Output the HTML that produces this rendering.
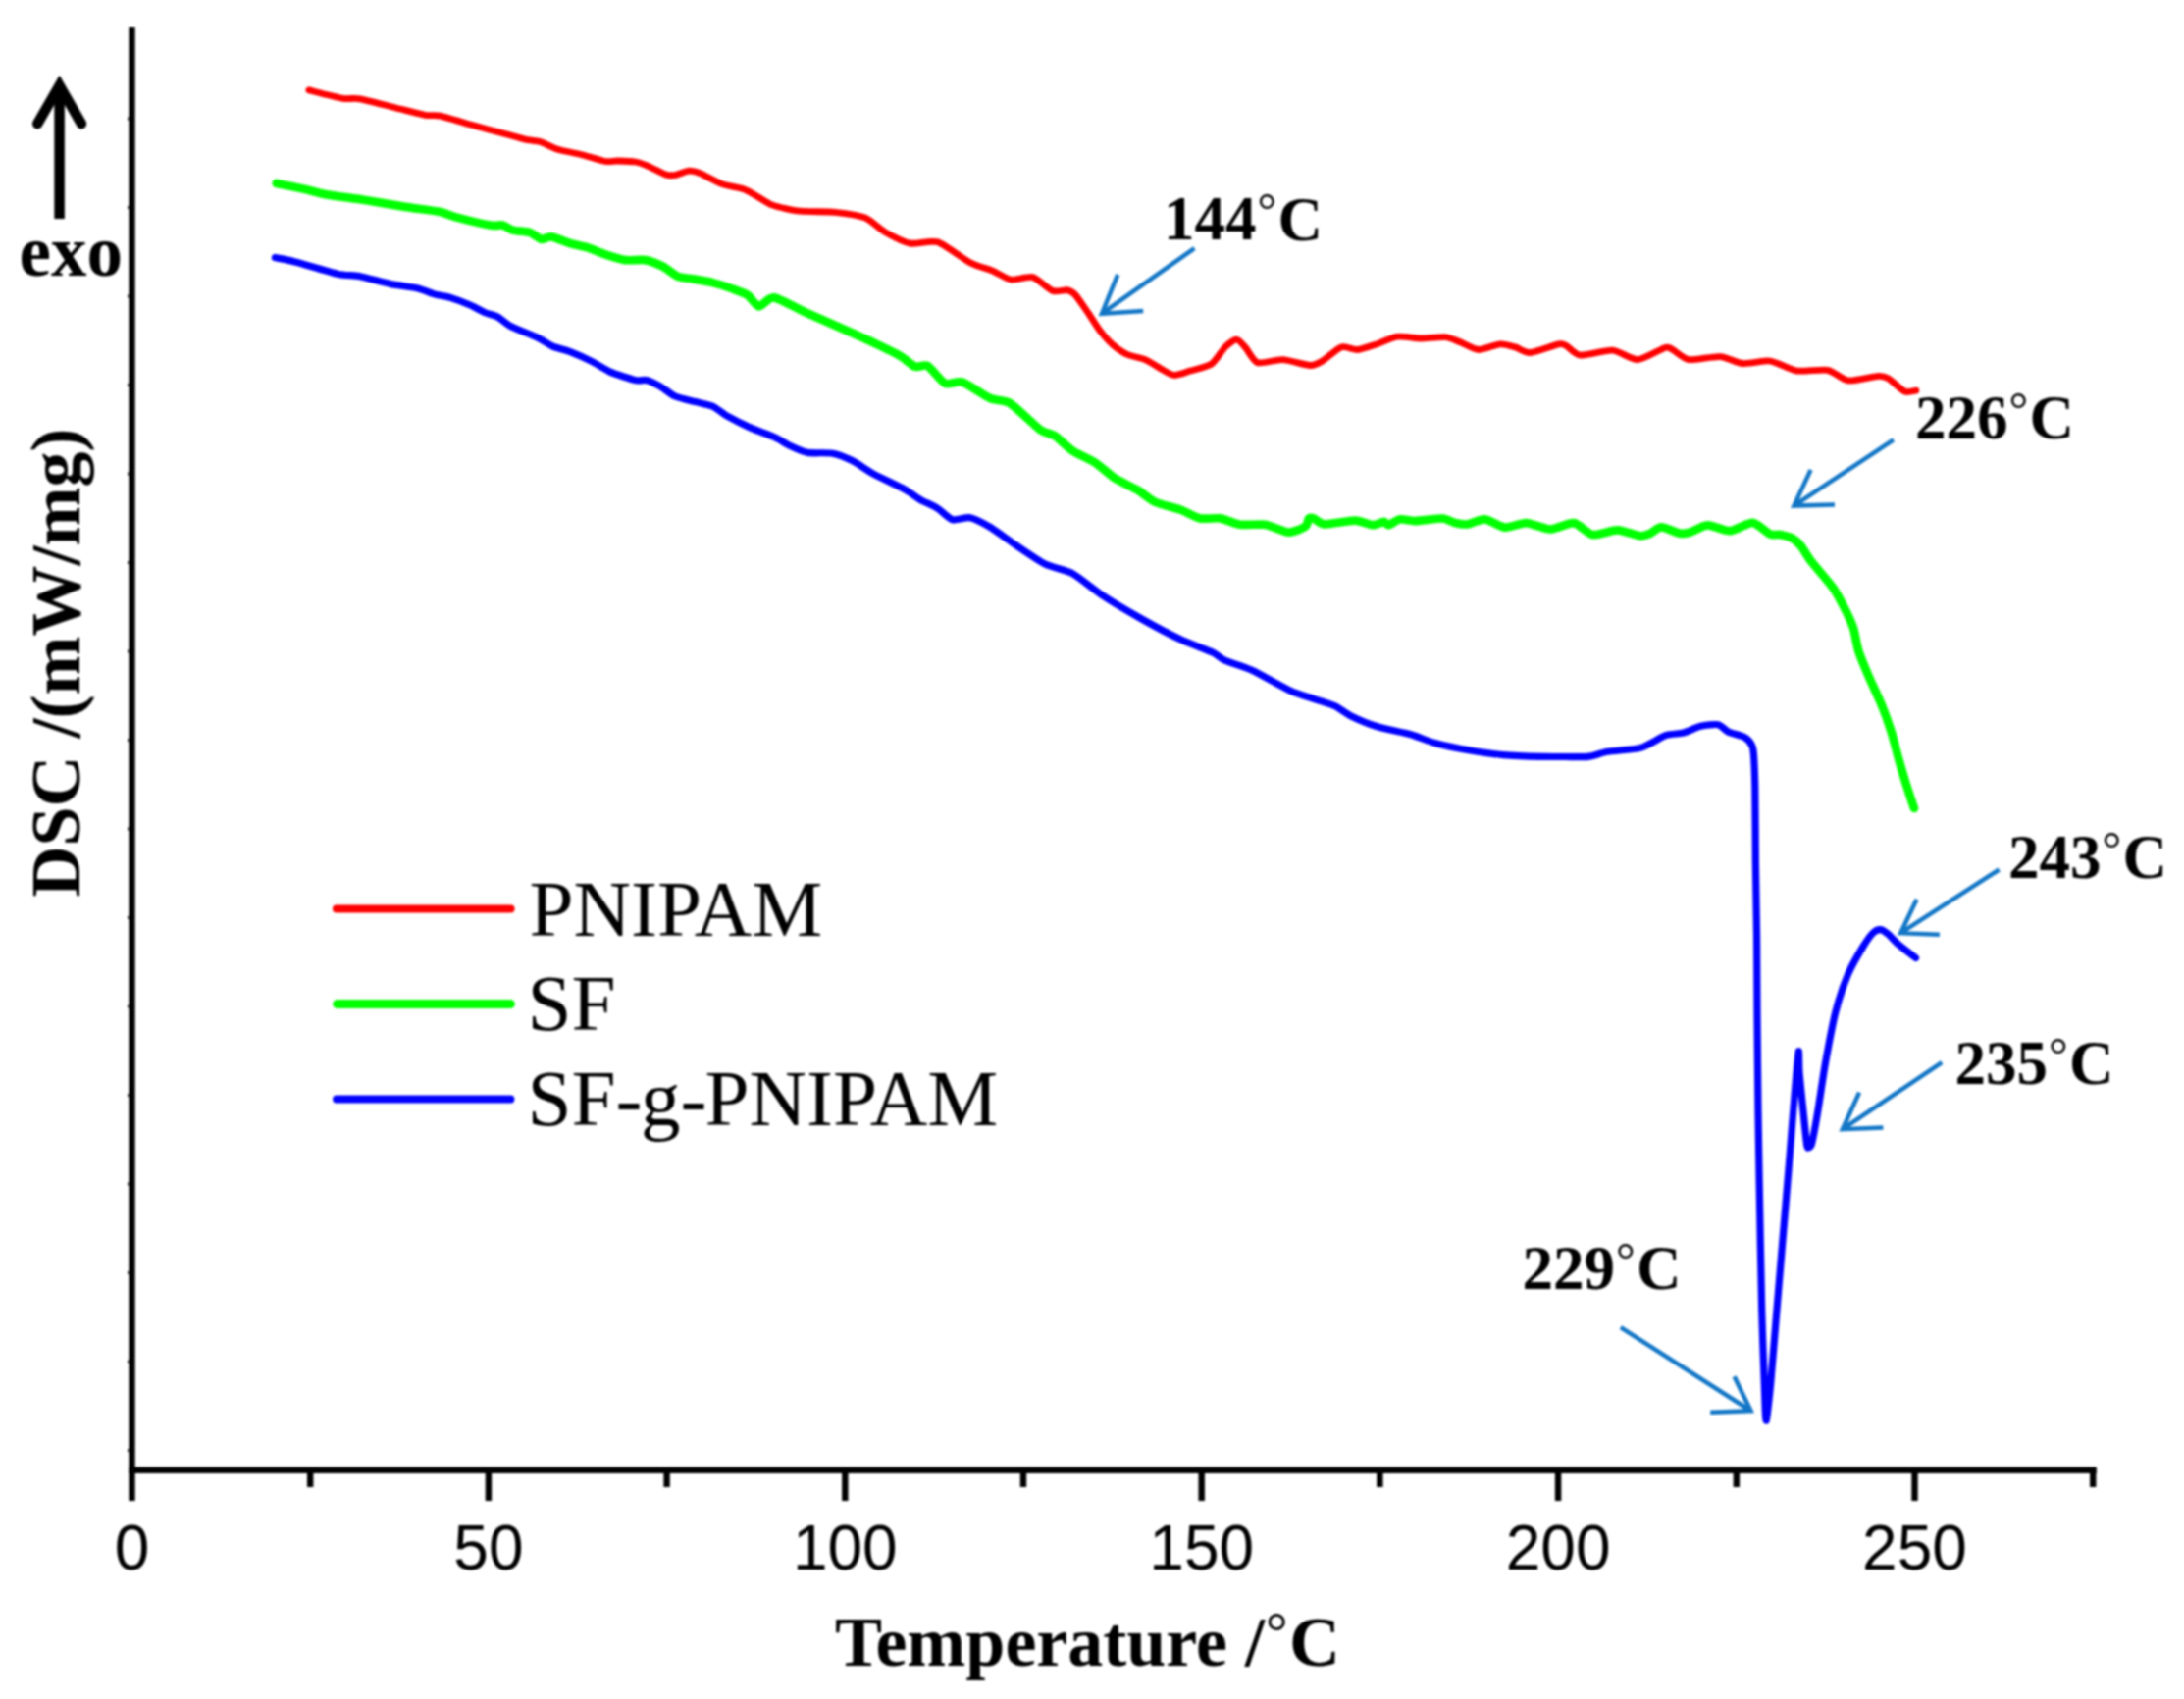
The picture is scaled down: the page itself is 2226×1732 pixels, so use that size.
<!DOCTYPE html>
<html><head><meta charset="utf-8"><title>DSC curves</title>
<style>
html,body{margin:0;padding:0;background:#fff;}
svg{display:block;filter:blur(0.8px);}
.ser{font-family:"Liberation Serif","Times New Roman",serif;}
.sans{font-family:"Liberation Sans",Arial,sans-serif;}
.b{font-weight:bold;}
.dg{font-weight:normal;font-size:0.78em;}
</style></head>
<body>
<svg width="2226" height="1732" viewBox="0 0 2226 1732">
<rect width="2226" height="1732" fill="#ffffff"/>
<g fill="none" stroke-linejoin="round" stroke-linecap="round">
<path stroke="#ff0000" stroke-width="6.8" d="M314.8,91.9 C318.8,92.9 343.1,99.3 349.2,100.3 C355.3,101.3 360.8,99.7 367.0,100.8 C373.2,101.9 395.0,107.8 402.7,109.7 C410.4,111.6 427.9,116.3 433.3,117.3 C438.7,118.3 442.7,116.8 448.6,118.1 C454.6,119.4 476.6,126.2 484.3,128.3 C492.0,130.4 508.9,134.9 514.8,136.5 C520.7,138.1 531.0,141.2 535.2,142.1 C539.4,143.0 546.6,143.4 550.5,144.6 C554.4,145.8 563.6,150.8 568.4,152.3 C573.2,153.8 585.7,155.9 591.3,157.3 C596.9,158.7 612.3,163.7 616.8,164.5 C621.3,165.3 625.9,163.9 629.5,164.0 C633.1,164.1 643.8,164.4 647.4,165.0 C651.0,165.6 656.5,167.6 660.1,169.1 C663.7,170.6 674.7,176.6 678.0,177.7 C681.3,178.8 685.3,178.9 688.1,178.5 C690.9,178.1 699.2,174.4 702.2,174.2 C705.2,174.0 709.6,175.1 713.6,176.7 C717.6,178.3 731.5,186.1 736.6,187.9 C741.7,189.7 753.1,191.2 757.0,192.5 C760.9,193.8 766.1,197.0 769.7,198.9 C773.3,200.8 782.2,207.2 787.5,209.1 C792.8,211.0 808.1,214.4 815.5,215.2 C822.9,216.0 843.5,215.5 851.2,216.3 C858.9,217.1 875.8,219.5 881.7,221.9 C887.6,224.3 896.7,233.5 902.1,236.6 C907.5,239.7 921.4,246.9 927.6,248.1 C933.8,249.3 948.5,244.5 955.6,246.8 C962.7,249.1 982.3,264.3 988.8,267.7 C995.3,271.1 1006.8,274.1 1011.7,276.1 C1016.6,278.1 1026.0,284.4 1030.8,285.1 C1035.6,285.8 1047.6,281.2 1052.5,282.5 C1057.4,283.8 1068.7,294.9 1072.9,296.5 C1077.1,298.1 1085.5,295.3 1088.2,295.8 C1090.9,296.3 1093.4,297.8 1095.8,300.4 C1098.2,303.0 1105.6,313.9 1108.6,318.2 C1111.6,322.5 1118.3,333.4 1121.3,337.3 C1124.3,341.2 1130.7,348.5 1134.0,351.3 C1137.3,354.1 1145.4,359.7 1149.3,361.5 C1153.2,363.3 1163.3,365.0 1167.2,366.6 C1171.1,368.2 1179.1,373.7 1182.5,375.5 C1185.9,377.3 1192.9,382.1 1196.5,382.4 C1200.1,382.7 1208.5,379.4 1213.0,378.1 C1217.5,376.8 1230.5,374.0 1234.7,371.2 C1238.9,368.4 1245.7,356.8 1248.7,353.9 C1251.7,351.0 1257.8,346.2 1260.2,346.2 C1262.6,346.2 1266.6,351.2 1269.1,353.9 C1271.6,356.6 1277.3,368.2 1281.8,369.7 C1286.3,371.2 1301.1,366.3 1307.3,366.6 C1313.5,366.9 1330.6,372.3 1335.3,372.5 C1340.0,372.7 1344.3,370.1 1348.0,367.9 C1351.7,365.7 1362.9,355.2 1367.1,353.9 C1371.3,352.6 1379.7,356.8 1383.7,356.5 C1387.7,356.2 1396.7,353.0 1401.5,351.4 C1406.3,349.8 1419.1,343.9 1424.5,343.2 C1429.9,342.5 1441.8,344.9 1447.4,345.0 C1453.0,345.1 1468.1,343.3 1472.9,343.7 C1477.7,344.1 1484.2,347.3 1488.2,348.8 C1492.2,350.3 1502.5,356.3 1507.3,356.5 C1512.1,356.7 1524.7,351.1 1529.0,350.8 C1533.3,350.5 1540.7,352.9 1544.3,353.9 C1547.9,354.9 1554.4,359.9 1559.6,359.5 C1564.8,359.1 1584.6,351.6 1588.9,350.8 C1593.2,350.0 1594.0,351.3 1596.5,352.6 C1599.0,353.9 1605.0,361.6 1610.5,362.1 C1616.0,362.6 1636.8,356.7 1643.6,357.2 C1650.4,357.7 1662.8,366.9 1669.1,366.6 C1675.4,366.3 1693.0,355.6 1697.2,354.4 C1701.4,353.2 1702.0,355.1 1704.8,356.5 C1707.6,357.9 1715.8,365.8 1721.4,366.6 C1727.0,367.4 1746.8,363.1 1753.2,363.6 C1759.6,364.1 1770.5,370.0 1776.2,370.5 C1781.9,371.0 1797.5,367.9 1801.7,367.9 C1805.9,367.9 1808.2,369.3 1811.8,370.5 C1815.4,371.7 1826.2,377.3 1832.2,378.1 C1838.2,378.9 1856.7,376.2 1862.8,377.3 C1868.9,378.4 1878.1,387.2 1884.1,387.9 C1890.1,388.6 1909.9,383.5 1914.6,383.3 C1919.3,383.1 1921.7,384.1 1924.8,385.9 C1927.9,387.7 1938.1,397.7 1941.4,399.1 C1944.7,400.5 1951.6,398.2 1952.9,398.1"/>
<path stroke="#00ff00" stroke-width="8.7" d="M281.7,186.9 C285.1,187.6 305.2,191.7 311.0,193.0 C316.8,194.3 324.3,196.8 331.4,198.1 C338.5,199.4 362.6,202.5 372.1,204.0 C381.6,205.5 404.0,209.5 412.9,210.9 C421.8,212.3 442.7,214.8 448.6,216.0 C454.6,217.2 457.9,219.5 463.9,221.1 C469.8,222.7 494.0,228.5 499.6,229.5 C505.2,230.5 509.6,228.9 512.3,229.5 C515.0,230.1 519.2,233.7 522.5,234.6 C525.8,235.5 536.9,236.0 540.3,237.1 C543.7,238.2 549.3,243.5 551.8,244.0 C554.3,244.5 558.6,240.9 562.0,241.4 C565.4,241.9 576.8,246.8 581.1,248.1 C585.4,249.4 594.7,251.1 598.9,252.4 C603.1,253.7 612.3,257.8 616.8,259.3 C621.3,260.8 632.4,264.4 637.2,265.1 C642.0,265.8 653.1,264.4 657.6,265.1 C662.1,265.8 671.5,269.6 675.4,271.5 C679.3,273.4 687.1,280.2 690.7,281.7 C694.3,283.2 701.8,283.6 706.0,284.3 C710.2,285.0 721.7,286.9 726.4,288.1 C731.1,289.3 742.5,293.0 746.7,294.5 C750.9,296.0 758.9,298.7 762.0,300.8 C765.1,302.9 770.4,312.0 773.5,312.3 C776.6,312.6 783.3,302.7 788.8,303.4 C794.3,304.1 811.5,314.1 820.6,318.2 C829.7,322.3 858.2,334.9 866.5,338.6 C874.8,342.3 886.0,347.3 891.9,350.1 C897.8,352.9 912.6,360.0 917.4,362.8 C922.2,365.6 929.4,372.5 932.7,373.7 C936.0,374.9 941.9,371.0 945.5,373.0 C949.1,375.0 959.1,388.9 963.3,390.8 C967.5,392.7 975.7,387.8 981.1,389.6 C986.5,391.4 1003.5,403.6 1009.2,406.1 C1014.9,408.6 1023.7,407.5 1029.6,411.2 C1035.5,414.9 1054.8,434.1 1060.1,438.0 C1065.4,441.9 1071.5,441.8 1075.4,444.3 C1079.3,446.8 1088.5,456.4 1093.3,459.6 C1098.1,462.8 1111.1,468.3 1116.2,471.6 C1121.3,474.9 1131.5,484.4 1136.6,487.7 C1141.7,491.0 1154.7,496.8 1159.5,499.6 C1164.3,502.4 1172.3,509.6 1177.4,511.9 C1182.5,514.2 1197.5,517.6 1202.8,519.5 C1208.1,521.4 1218.4,527.4 1223.2,528.4 C1228.0,529.4 1238.8,527.7 1243.6,528.4 C1248.4,529.1 1258.6,534.1 1264.0,534.8 C1269.4,535.5 1283.9,533.9 1289.5,534.8 C1295.1,535.7 1308.3,542.0 1312.4,542.5 C1316.5,543.0 1322.8,540.3 1325.0,539.5 C1327.2,538.7 1330.4,537.0 1331.4,535.7 C1332.5,534.4 1333.1,529.3 1334.0,528.5 C1334.9,527.7 1337.2,527.8 1339.1,528.5 C1341.0,529.2 1345.6,534.2 1350.5,534.4 C1355.4,534.6 1375.4,530.5 1381.1,530.6 C1386.8,530.7 1395.6,535.0 1399.0,535.2 C1402.4,535.4 1408.5,531.9 1410.4,531.9 C1412.3,531.9 1413.6,535.5 1415.5,535.2 C1417.4,534.9 1423.9,529.8 1427.0,529.3 C1430.1,528.8 1437.2,531.2 1442.3,531.1 C1447.4,531.0 1465.6,528.3 1470.3,528.5 C1475.0,528.7 1480.0,532.4 1483.0,533.1 C1486.0,533.8 1492.2,534.8 1495.8,534.4 C1499.4,534.0 1509.1,528.9 1513.6,529.3 C1518.1,529.7 1529.1,537.3 1534.0,537.7 C1538.9,538.1 1550.3,532.9 1555.7,533.1 C1561.1,533.3 1574.3,539.5 1579.9,539.5 C1585.5,539.5 1599.0,532.5 1604.1,533.1 C1609.2,533.7 1618.1,544.1 1623.3,545.0 C1628.5,545.9 1643.1,540.2 1648.7,540.4 C1654.3,540.6 1667.8,545.9 1671.7,546.3 C1675.6,546.7 1679.4,544.8 1681.9,543.8 C1684.4,542.8 1689.7,537.4 1693.3,537.4 C1696.9,537.4 1709.1,543.2 1712.5,543.8 C1715.9,544.4 1719.4,543.5 1722.7,542.5 C1726.0,541.5 1735.8,535.6 1740.5,535.4 C1745.2,535.2 1758.0,541.5 1763.4,541.2 C1768.8,540.9 1781.6,532.4 1786.4,532.8 C1791.2,533.2 1800.9,543.1 1804.2,544.5 C1807.5,545.9 1811.7,544.5 1814.4,545.0 C1817.1,545.5 1824.6,547.5 1827.1,548.9 C1829.6,550.3 1833.4,553.9 1835.6,556.6 C1837.8,559.3 1841.9,566.8 1845.8,571.9 C1849.7,577.0 1864.6,593.9 1868.8,599.9 C1873.0,605.9 1879.1,618.1 1881.5,622.9 C1883.9,627.7 1887.7,636.0 1889.2,640.7 C1890.7,645.4 1892.5,658.0 1894.3,663.6 C1896.1,669.2 1901.8,682.8 1904.5,689.1 C1907.2,695.4 1914.5,710.7 1917.2,717.2 C1919.9,723.7 1925.3,738.7 1927.4,745.2 C1929.5,751.7 1933.2,766.6 1935.0,773.0 C1936.8,779.4 1941.1,794.0 1943.0,800.0 C1944.9,806.0 1950.1,821.2 1951.0,824.0"/>
<path stroke="#0000ff" stroke-width="7.2" d="M280.4,262.6 C282.8,263.1 293.4,265.0 300.8,266.9 C308.2,268.8 336.4,277.5 344.1,279.2 C351.8,280.9 360.8,280.5 367.0,281.7 C373.2,282.9 390.8,288.0 397.6,289.4 C404.4,290.8 420.2,292.7 425.6,293.9 C431.0,295.1 439.6,299.0 443.5,300.1 C447.4,301.2 454.6,302.1 458.8,303.4 C463.0,304.7 475.0,309.2 479.2,311.0 C483.4,312.8 491.2,317.3 494.5,318.7 C497.8,320.1 504.2,321.4 507.2,323.0 C510.2,324.6 515.1,329.7 519.9,332.2 C524.7,334.7 542.9,341.8 548.0,344.2 C553.1,346.6 559.4,351.4 563.3,353.1 C567.2,354.8 576.4,356.9 581.1,358.7 C585.8,360.5 599.2,366.5 604.0,368.9 C608.8,371.3 616.8,376.9 621.9,379.1 C627.0,381.3 643.1,386.5 647.4,387.5 C651.7,388.5 655.8,386.8 658.8,387.5 C661.8,388.2 669.4,391.9 672.8,393.8 C676.2,395.7 683.9,402.2 688.1,404.0 C692.3,405.8 704.0,408.4 708.5,409.6 C713.0,410.8 722.5,412.5 726.4,414.2 C730.3,415.9 737.2,421.9 741.7,424.4 C746.2,426.9 759.0,433.4 764.6,435.9 C770.2,438.4 785.4,443.9 790.1,446.1 C794.8,448.3 801.4,452.7 805.3,454.5 C809.1,456.3 818.0,460.5 823.1,461.4 C828.2,462.3 843.2,461.2 848.6,462.2 C854.0,463.2 864.2,467.4 869.0,469.8 C873.8,472.2 883.2,479.2 889.4,482.6 C895.6,486.0 916.9,496.0 922.5,499.1 C928.1,502.2 933.9,507.1 937.8,509.3 C941.7,511.5 951.7,515.8 955.6,518.2 C959.5,520.6 967.0,528.6 970.9,529.7 C974.8,530.8 984.3,526.8 988.8,527.7 C993.3,528.6 1003.9,534.2 1009.2,537.4 C1014.5,540.6 1028.1,550.8 1034.6,555.2 C1041.1,559.6 1058.4,571.6 1065.2,575.0 C1072.0,578.4 1086.3,580.9 1093.1,584.6 C1099.9,588.3 1115.7,601.7 1123.7,607.0 C1131.7,612.3 1152.7,624.8 1161.9,630.0 C1171.1,635.2 1194.1,647.5 1202.7,651.6 C1211.3,655.7 1230.4,662.6 1235.8,665.1 C1241.2,667.6 1243.8,671.2 1248.6,673.3 C1253.4,675.4 1268.9,679.9 1276.6,683.5 C1284.3,687.1 1307.4,700.5 1314.8,703.9 C1322.2,707.3 1334.9,711.0 1340.3,712.8 C1345.7,714.6 1356.5,717.8 1360.7,719.7 C1364.9,721.6 1370.9,726.9 1376.0,729.4 C1381.1,731.9 1396.9,738.6 1404.0,740.8 C1411.1,743.0 1430.4,746.6 1437.2,748.5 C1444.0,750.4 1455.6,755.5 1462.7,757.4 C1469.8,759.3 1490.3,763.6 1498.3,765.0 C1506.3,766.4 1523.2,768.9 1531.5,769.6 C1539.8,770.3 1562.3,771.2 1569.7,771.4 C1577.1,771.6 1589.5,771.5 1595.2,771.5 C1600.9,771.5 1613.5,772.0 1618.6,771.4 C1623.7,770.8 1632.8,767.3 1639.0,766.3 C1645.2,765.2 1665.3,764.3 1672.1,762.4 C1678.9,760.5 1692.5,751.5 1697.6,749.7 C1702.7,747.9 1711.3,748.2 1715.5,747.1 C1719.7,746.0 1729.1,741.3 1733.3,740.3 C1737.5,739.3 1747.8,738.0 1751.1,738.7 C1754.4,739.4 1758.0,744.3 1761.3,745.9 C1764.6,747.5 1776.2,750.1 1779.2,752.2 C1782.2,754.3 1785.7,757.9 1786.8,763.7 C1787.9,769.5 1788.5,788.5 1788.8,801.9 C1789.1,815.3 1789.2,860.6 1789.4,878.4 C1789.6,896.2 1790.4,937.0 1790.6,954.8 C1790.8,972.6 1790.8,1010.2 1791.0,1031.0 C1791.2,1051.8 1791.7,1112.4 1792.0,1133.0 C1792.3,1153.6 1792.8,1183.9 1793.2,1207.4 C1793.6,1230.9 1795.1,1311.0 1795.7,1334.8 C1796.3,1358.6 1797.8,1398.1 1798.3,1411.3 C1798.8,1424.5 1799.4,1448.2 1800.1,1448.2 C1800.8,1448.2 1803.3,1424.5 1804.6,1411.3 C1805.9,1398.1 1809.5,1352.6 1811.0,1334.8 C1812.5,1317.0 1815.9,1276.2 1817.4,1258.4 C1818.9,1240.6 1822.5,1198.3 1823.8,1181.9 C1825.1,1165.5 1827.8,1131.0 1828.9,1118.2 C1830.0,1105.4 1832.6,1075.0 1833.2,1072.0 C1833.8,1069.0 1833.5,1085.8 1834.0,1092.7 C1834.5,1099.6 1836.9,1122.4 1837.8,1131.0 C1838.7,1139.6 1840.9,1162.1 1841.6,1166.6 C1842.3,1171.1 1842.8,1169.8 1843.4,1169.7 C1844.0,1169.6 1845.6,1169.9 1846.7,1165.4 C1847.8,1160.9 1851.5,1140.7 1853.1,1131.0 C1854.7,1121.3 1858.6,1093.9 1860.7,1082.3 C1862.8,1070.7 1868.2,1041.7 1870.9,1031.3 C1873.6,1020.9 1880.3,1000.8 1883.6,993.1 C1886.9,985.4 1895.9,969.9 1898.9,965.0 C1901.9,960.1 1907.0,953.0 1909.1,951.0 C1911.2,949.0 1915.0,947.5 1916.8,947.7 C1918.6,947.9 1922.3,950.6 1924.4,952.3 C1926.5,954.0 1931.3,959.7 1934.6,962.5 C1937.9,965.3 1950.4,974.9 1952.5,976.5"/>
</g>
<g stroke="#000" stroke-width="6.4" fill="none">
<path d="M134.5,28 V1501.7" stroke-linecap="butt"/>
<path d="M131.3,1498.7 H2136.8" />
<line x1="134.5" y1="1498.7" x2="134.5" y2="1530" /><line x1="316.2" y1="1498.7" x2="316.2" y2="1516" /><line x1="497.9" y1="1498.7" x2="497.9" y2="1530" /><line x1="679.6" y1="1498.7" x2="679.6" y2="1516" /><line x1="861.3" y1="1498.7" x2="861.3" y2="1530" /><line x1="1043.0" y1="1498.7" x2="1043.0" y2="1516" /><line x1="1224.7" y1="1498.7" x2="1224.7" y2="1530" /><line x1="1406.4" y1="1498.7" x2="1406.4" y2="1516" /><line x1="1588.1" y1="1498.7" x2="1588.1" y2="1530" /><line x1="1769.8" y1="1498.7" x2="1769.8" y2="1516" /><line x1="1951.5" y1="1498.7" x2="1951.5" y2="1530" /><line x1="2133.2" y1="1498.7" x2="2133.2" y2="1516" />
</g>
<g stroke="#000" stroke-width="3" fill="none">
<line x1="130.2" y1="121.0" x2="134" y2="121.0" /><line x1="130.2" y1="211.5" x2="134" y2="211.5" /><line x1="130.2" y1="302.0" x2="134" y2="302.0" /><line x1="130.2" y1="392.5" x2="134" y2="392.5" /><line x1="130.2" y1="483.0" x2="134" y2="483.0" /><line x1="130.2" y1="573.5" x2="134" y2="573.5" /><line x1="130.2" y1="664.0" x2="134" y2="664.0" /><line x1="130.2" y1="754.5" x2="134" y2="754.5" /><line x1="130.2" y1="845.0" x2="134" y2="845.0" /><line x1="130.2" y1="935.5" x2="134" y2="935.5" /><line x1="130.2" y1="1026.0" x2="134" y2="1026.0" /><line x1="130.2" y1="1116.5" x2="134" y2="1116.5" /><line x1="130.2" y1="1207.0" x2="134" y2="1207.0" /><line x1="130.2" y1="1297.5" x2="134" y2="1297.5" /><line x1="130.2" y1="1388.0" x2="134" y2="1388.0" /><line x1="130.2" y1="1478.5" x2="134" y2="1478.5" />
</g>
<g class="sans" font-size="64" fill="#000">
<text x="134.5" y="1599.6" text-anchor="middle">0</text><text x="497.9" y="1599.6" text-anchor="middle">50</text><text x="861.3" y="1599.6" text-anchor="middle">100</text><text x="1224.7" y="1599.6" text-anchor="middle">150</text><text x="1588.1" y="1599.6" text-anchor="middle">200</text><text x="1951.5" y="1599.6" text-anchor="middle">250</text>
</g>
<g stroke="#000" fill="none" stroke-width="10.5">
<path d="M60.6,223 V88" />
<path d="M38.2,126.2 L60.6,87.2 L83,126.2" stroke-linecap="round" stroke-linejoin="miter"/>
</g>
<text class="ser b" x="19.5" y="281.2" font-size="73" fill="#000">exo</text>
<text class="ser b" font-size="72" fill="#000" transform="translate(80.8,914.5) rotate(-90)">DSC /(mW/mg)</text>
<text class="ser b" font-size="72" fill="#000" x="851" y="1698">Temperature /<tspan class="dg" dx="0.02em" dy="-0.2625em">°</tspan><tspan dx="0.02em" dy="0.21em">C</tspan></text>
<g stroke-linecap="round" fill="none">
<line x1="343" y1="926.5" x2="520.5" y2="926.5" stroke="#ff0000" stroke-width="8.2"/>
<line x1="343.5" y1="1023.5" x2="520.5" y2="1023.5" stroke="#00ff00" stroke-width="8.8"/>
<line x1="343" y1="1120.5" x2="520.5" y2="1120.5" stroke="#0000ff" stroke-width="7.8"/>
</g>
<g class="ser" font-size="81" fill="#000">
<text x="539.5" y="953.8">PNIPAM</text>
<text x="537.5" y="1050.3">SF</text>
<text x="537.5" y="1147.3">SF-<tspan dx="-1.5">g</tspan>-<tspan dx="-2">PNIPAM</tspan></text>
</g>
<g stroke="#1276c6" stroke-width="4.5" fill="none" stroke-linecap="butt" stroke-linejoin="miter">
<path d="M1217.4,253.2 L1123.0,319.7 M1139.2,279.8 L1123.0,319.7 L1165.2,317.0" /><path d="M1929.9,448.4 L1828.5,515.6 M1845.6,478.9 L1828.5,515.6 L1870.0,514.5" /><path d="M2037.6,886.5 L1937.2,951.2 M1953.6,916.7 L1937.2,951.2 L1976.9,952.8" /><path d="M1979.2,1083.1 L1877.9,1151.2 M1895.1,1113.6 L1877.9,1151.2 L1919.4,1149.4" /><path d="M1651.8,1353.1 L1784.5,1438.2 M1767.6,1403.2 L1784.5,1438.2 L1743.2,1439.7" />
</g>
<g class="ser b" font-size="63" fill="#000">
<text x="1186" y="244.3">144<tspan class="dg" dx="0.02em" dy="-0.2625em">°</tspan><tspan dx="0.02em" dy="0.21em">C</tspan></text>
<text x="1952" y="446.8">226<tspan class="dg" dx="0.02em" dy="-0.2625em">°</tspan><tspan dx="0.02em" dy="0.21em">C</tspan></text>
<text x="2047" y="894.5">243<tspan class="dg" dx="0.02em" dy="-0.2625em">°</tspan><tspan dx="0.02em" dy="0.21em">C</tspan></text>
<text x="1992.5" y="1105">235<tspan class="dg" dx="0.02em" dy="-0.2625em">°</tspan><tspan dx="0.02em" dy="0.21em">C</tspan></text>
<text x="1551.5" y="1314">229<tspan class="dg" dx="0.02em" dy="-0.2625em">°</tspan><tspan dx="0.02em" dy="0.21em">C</tspan></text>
</g>
</svg>
</body></html>
